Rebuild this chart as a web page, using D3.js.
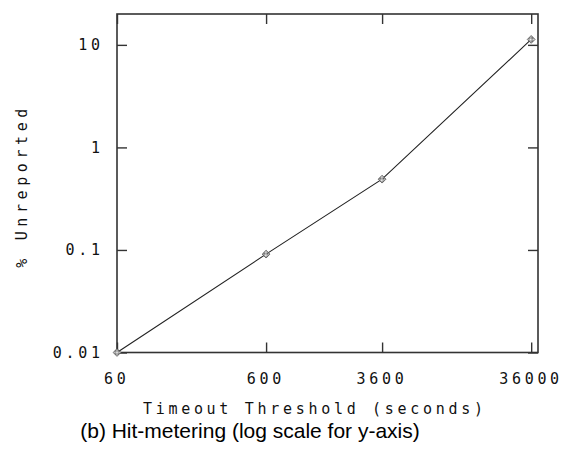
<!DOCTYPE html>
<html>
<head>
<meta charset="utf-8">
<script src="https://cdn.jsdelivr.net/npm/d3@7"></script>
<style>
  html, body { margin: 0; padding: 0; background: #fff; }
  svg { display: block; }
  .mono { font-family: "DejaVu Sans Mono", "Liberation Mono", monospace; font-size: 15px; fill: #111; }
  .caption { font-family: "Liberation Sans", Arial, sans-serif; font-size: 21px; fill: #000; }
</style>
</head>
<body>
<svg id="chart" width="577" height="449"></svg>
<script>
// Timeout thresholds (seconds) and share of unreported hits (%)
const thresholds = [60, 600, 3600, 36000];
const unreported = [0.01, 0.091, 0.49, 11.3];

// Tick values and labels
const xTicks = [60, 600, 3600, 36000];
const xTickLabels = ["60", "600", "3600", "36000"];
const yTicks = [0.01, 0.1, 1, 10];
const yTickLabels = ["0.01", "0.1", "1", "10"];

const xTitle = "Timeout Threshold (seconds)";
const yTitle = "% Unreported";
const caption = "(b) Hit-metering (log scale for y-axis)";

(function () {
  const svg = d3.select("#chart");
  const plotLeft = 117, plotRight = 538, plotTop = 14, plotBottom = 352.5;
  const ls = 3.7; // letter spacing of the monospaced labels
  const tickLen = 10;

  const x = d3.scaleLog().domain([60, 40000]).range([plotLeft, plotRight]);
  const y = d3.scaleLog().domain([0.01, 20]).range([plotBottom, plotTop]);

  // Checkered fill for the point markers
  const pat = svg.append("defs").append("pattern")
    .attr("id", "checker").attr("width", 2).attr("height", 2)
    .attr("patternUnits", "userSpaceOnUse");
  pat.append("rect").attr("width", 2).attr("height", 2).attr("fill", "#fff");
  pat.append("rect").attr("width", 1).attr("height", 1).attr("fill", "#555");
  pat.append("rect").attr("x", 1).attr("y", 1).attr("width", 1).attr("height", 1).attr("fill", "#555");

  // Frame
  svg.append("rect")
    .attr("x", plotLeft).attr("y", plotTop)
    .attr("width", plotRight - plotLeft).attr("height", plotBottom - plotTop)
    .attr("fill", "none").attr("stroke", "#333").attr("stroke-width", 1.6);

  // Inward ticks on all four sides
  const bottomAxis = d3.axisBottom(x).tickValues(xTicks).tickSize(-tickLen).tickFormat("");
  const topAxis = d3.axisTop(x).tickValues(xTicks).tickSize(-tickLen).tickFormat("");
  const leftAxis = d3.axisLeft(y).tickValues(yTicks).tickSize(-tickLen).tickFormat("");
  const rightAxis = d3.axisRight(y).tickValues(yTicks).tickSize(-tickLen).tickFormat("");

  function styleAxis(g) {
    g.select(".domain").remove();
    g.selectAll(".tick line").attr("stroke", "#333").attr("stroke-width", 1.4);
  }
  svg.append("g").attr("transform", `translate(0,${plotBottom})`).call(bottomAxis).call(styleAxis);
  svg.append("g").attr("transform", `translate(0,${plotTop})`).call(topAxis).call(styleAxis);
  svg.append("g").attr("transform", `translate(${plotLeft},0)`).call(leftAxis).call(styleAxis);
  svg.append("g").attr("transform", `translate(${plotRight},0)`).call(rightAxis).call(styleAxis);

  // Tick labels
  svg.append("g").selectAll("text")
    .data(xTicks)
    .join("text")
    .attr("class", "mono")
    .attr("x", d => x(d) + ls / 2 - 2)
    .attr("y", 384)
    .attr("text-anchor", "middle")
    .attr("letter-spacing", ls)
    .text((d, i) => xTickLabels[i]);

  svg.append("g").selectAll("text")
    .data(yTicks)
    .join("text")
    .attr("class", "mono")
    .attr("x", 100 + ls)
    .attr("y", d => y(d) + 5.5)
    .attr("text-anchor", "end")
    .attr("letter-spacing", ls)
    .text((d, i) => yTickLabels[i]);

  // Axis titles
  svg.append("text")
    .attr("class", "mono")
    .attr("x", 313 + ls / 2)
    .attr("y", 414)
    .attr("text-anchor", "middle")
    .attr("letter-spacing", ls)
    .text(xTitle);

  svg.append("text")
    .attr("class", "mono")
    .attr("transform", `translate(27,${184 + ls / 2}) rotate(-90)`)
    .attr("text-anchor", "middle")
    .attr("letter-spacing", ls + 0.9)
    .text(yTitle);

  // Series line
  const line = d3.line().x((d, i) => x(thresholds[i])).y(d => y(d));
  svg.append("path")
    .datum(unreported)
    .attr("d", line)
    .attr("fill", "none")
    .attr("stroke", "#222")
    .attr("stroke-width", 1.1);

  // Point markers: square diamonds
  svg.append("g").selectAll("path")
    .data(unreported)
    .join("path")
    .attr("transform", (d, i) => `translate(${x(thresholds[i])},${y(d)}) rotate(45)`)
    .attr("d", d3.symbol().type(d3.symbolSquare).size(30))
    .attr("fill", "url(#checker)")
    .attr("stroke", "#555")
    .attr("stroke-width", 0.8);

  // Caption
  svg.append("text")
    .attr("class", "caption")
    .attr("x", 250)
    .attr("y", 438)
    .attr("text-anchor", "middle")
    .text(caption);
})();
</script>
</body>
</html>
